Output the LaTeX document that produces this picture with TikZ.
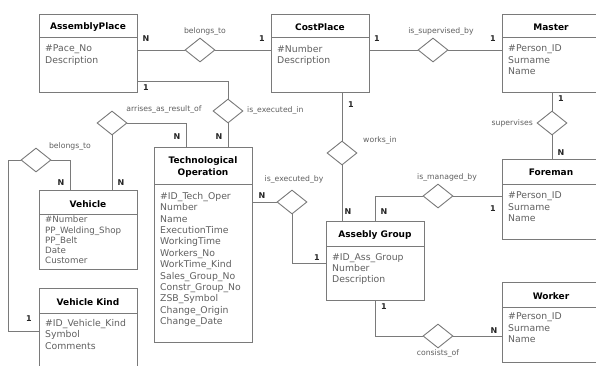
\documentclass[tikz,border=0pt]{standalone}
\usepackage{fontspec}
\setmainfont{DejaVu Sans}
\usetikzlibrary{shapes.geometric,calc}
\definecolor{boxc}{HTML}{7A7A7A}
\definecolor{linec}{HTML}{7A7A7A}
\definecolor{attrc}{HTML}{606060}
\begin{document}
\begin{tikzpicture}[x=1pt,y=-1pt,
 ebox/.style={draw=boxc, line width=0.9pt, inner sep=0, anchor=north west, minimum width=98pt},
 etitle/.style={font=\bfseries\fontsize{9}{11}\selectfont, text=black, inner sep=0, align=center},
 eattr/.style={font=\fontsize{9.3}{11.4}\selectfont, text=attrc, inner sep=0, anchor=north west, align=left},
 rel/.style={diamond, draw=linec, fill=white, line width=0.9pt, minimum width=30pt, minimum height=24pt, inner sep=0},
 rlabel/.style={font=\fontsize{7.7}{9}\selectfont, text=attrc, inner sep=0},
 card/.style={font=\bfseries\fontsize{8}{9}\selectfont, text=black!85, inner sep=0},
 conn/.style={draw=linec, line width=0.9pt},
 divl/.style={draw=boxc, line width=0.9pt}]
\useasboundingbox (0,0) rectangle (596,365);
\clip (0,0) rectangle (596,365);
\fill[white] (0,0) rectangle (596,365);

% ---------- entities ----------
\node[ebox, minimum height=78pt] (ap) at (39,14) {};
\draw[divl] (ap.north west) ++(0,23) -- ++(98,0);
\node[etitle] (apt) at (88,27) {AssemblyPlace};
\node[eattr] (apa) at (45,45) {\#Pace\_No\\Description};

\node[ebox, minimum height=78pt] (cp) at (271,14) {};
\draw[divl] (cp.north west) ++(0,23) -- ++(98,0);
\node[etitle] (cpt) at (320,27) {CostPlace};
\node[eattr] (cpa) at (277,45) {\#Number\\Description};

\node[ebox, minimum height=78pt] (ma) at (502,14) {};
\draw[divl] (ma.north west) ++(0,23) -- ++(98,0);
\node[etitle] (mat) at (551,27) {Master};
\node[eattr] (maa) at (508,45) {\#Person\_ID\\Surname\\Name};

\node[ebox, minimum height=80pt] (fo) at (502,159) {};
\draw[divl] (fo.north west) ++(0,25) -- ++(98,0);
\node[etitle] (fot) at (551,172) {Foreman};
\node[eattr] (foa) at (508,192) {\#Person\_ID\\Surname\\Name};

\node[ebox, minimum height=80pt] (wo) at (502,282) {};
\draw[divl] (wo.north west) ++(0,25) -- ++(98,0);
\node[etitle] (wot) at (551,296) {Worker};
\node[eattr] (woa) at (508,313) {\#Person\_ID\\Surname\\Name};

\node[ebox, minimum height=79pt] (ag) at (326,221) {};
\draw[divl] (ag.north west) ++(0,25) -- ++(98,0);
\node[etitle] (agt) at (375,235) {Assebly Group};
\node[eattr] (aga) at (332,253) {\#ID\_Ass\_Group\\Number\\Description};

\node[ebox, minimum height=195pt] (to) at (154,147) {};
\draw[divl] (to.north west) ++(0,37) -- ++(98,0);
\node[etitle, font=\bfseries\fontsize{9}{12}\selectfont] (tot) at (203,167) {Technological\\Operation};
\node[eattr] (toa) at (160,192) {\#ID\_Tech\_Oper\\Number\\Name\\ExecutionTime\\WorkingTime\\Workers\_No\\WorkTime\_Kind\\Sales\_Group\_No\\Constr\_Group\_No\\ZSB\_Symbol\\Change\_Origin\\Change\_Date};

\node[ebox, minimum height=79pt] (ve) at (39,190) {};
\draw[divl] (ve.north west) ++(0,24) -- ++(98,0);
\node[etitle] (vet) at (88,204) {Vehicle};
\node[eattr, font=\fontsize{8.7}{10.2}\selectfont] (vea) at (45,216) {\#Number\\PP\_Welding\_Shop\\PP\_Belt\\Date\\Customer};

\node[ebox, minimum height=100pt] (vk) at (39,288) {};
\draw[divl] (vk.north west) ++(0,25) -- ++(98,0);
\node[etitle] (vkt) at (88,302) {Vehicle Kind};
\node[eattr] (vka) at (45,319) {\#ID\_Vehicle\_Kind\\Symbol\\Comments};

% ---------- relationships ----------
\node[rel] (d1) at (200,50) {};
\node[rel] (d2) at (433,50) {};
\node[rel] (d3) at (228,111) {};
\node[rel] (d4) at (112,123) {};
\node[rel] (d5) at (36,160) {};
\node[rel] (d6) at (342,153) {};
\node[rel] (d7) at (292,202) {};
\node[rel] (d8) at (552,123) {};
\node[rel] (d9) at (438,196) {};
\node[rel] (d10) at (438,336) {};

\coordinate (c3) at (228,81);
\coordinate (c4) at (186,123);
\coordinate (c5a) at (70,160);
\coordinate (c5b) at (8,331);
\coordinate (c7) at (292,263);
\coordinate (c9) at (375,196);
\coordinate (c10) at (375,336);

\draw[conn] (ap.east |- d1) -- (d1.west);
\draw[conn] (d1.east) -- (cp.west |- d1);
\draw[conn] (cp.east |- d2) -- (d2.west);
\draw[conn] (d2.east) -- (ma.west |- d2);
\draw[conn] (ap.east |- c3) -- (c3) -- (d3.north);
\draw[conn] (d3.south) -- (to.north -| d3);
\draw[conn] (d4.east) -- (c4) -- (to.north -| c4);
\draw[conn] (d4.south) -- (ve.north -| d4);
\draw[conn] (d5.east) -- (c5a) -- (ve.north -| c5a);
\draw[conn] (d5.west) -| (c5b) -- (vk.west |- c5b);
\draw[conn] (cp.south -| d6) -- (d6.north);
\draw[conn] (d6.south) -- (ag.north -| d6);
\draw[conn] (to.east |- d7) -- (d7.west);
\draw[conn] (d7.south) -- (c7) -- (ag.west |- c7);
\draw[conn] (ma.south -| d8) -- (d8.north);
\draw[conn] (d8.south) -- (fo.north -| d8);
\draw[conn] (ag.north -| c9) -- (c9) -- (d9.west);
\draw[conn] (d9.east) -- (fo.west |- d9);
\draw[conn] (ag.south -| c10) -- (c10) -- (d10.west);
\draw[conn] (d10.east) -- (wo.west |- d10);

% ---------- relationship labels ----------
\node[rlabel] (l1) at (205,31) {belongs\_to};
\node[rlabel] (l2) at (441,31) {is\_supervised\_by};
\node[rlabel, anchor=west] (l3) at (247,110) {is\_executed\_in};
\node[rlabel] (l4) at (164,109) {arrises\_as\_result\_of};
\node[rlabel] (l5) at (70,146) {belongs\_to};
\node[rlabel] (l6) at (380,140) {works\_in};
\node[rlabel] (l7) at (294,179) {is\_executed\_by};
\node[rlabel, anchor=east] (l8) at (533,123) {supervises};
\node[rlabel] (l9) at (447,177) {is\_managed\_by};
\node[rlabel] (l10) at (438,353) {consists\_of};

% ---------- cardinalities ----------
\node[card] (k1a) at (146,39) {N};
\node[card] (k1b) at (262,39) {1};
\node[card] (k2a) at (377,39) {1};
\node[card] (k2b) at (493,39) {1};
\node[card] (k3a) at (146,88) {1};
\node[card] (k3b) at (219,137) {N};
\node[card] (k4a) at (177,137) {N};
\node[card] (k4b) at (121,183) {N};
\node[card] (k5a) at (61,183) {N};
\node[card] (k5b) at (29,319) {1};
\node[card] (k6a) at (351,105) {1};
\node[card] (k6b) at (348,212) {N};
\node[card] (k7a) at (262,196) {N};
\node[card] (k7b) at (317,258) {1};
\node[card] (k8a) at (561,99) {1};
\node[card] (k8b) at (561,153) {N};
\node[card] (k9a) at (384,212) {N};
\node[card] (k9b) at (493,209) {1};
\node[card] (k10a) at (384,307) {1};
\node[card] (k10b) at (494,331) {N};
\end{tikzpicture}
\end{document}
